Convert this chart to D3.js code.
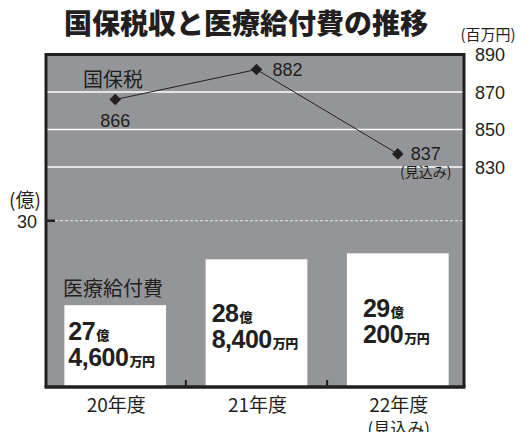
<!DOCTYPE html>
<html>
<head>
<meta charset="utf-8">
<style>
  body { margin: 0; background: #fff; overflow: hidden; }
  text { font-family: "Liberation Sans", "Noto Sans CJK JP", sans-serif; fill: #231f20; }
  .jp { font-family: "Noto Sans CJK JP", sans-serif; }
</style>
</head>
<body>
<div id="chart-area"></div>
<script src="https://cdn.jsdelivr.net/npm/d3@7"></script>
<script>
    // years and values
    var years = ["20年度", "21年度", "22年度"];
    var yearNotes = ["", "", "(見込み)"];
    var taxValues = [866, 882, 837];          // 国保税 (百万円)
    var benefitValues = [27.46, 28.84, 29.02]; // 医療給付費 (億)
    var benefitOku = ["27", "28", "29"];
    var benefitMan = ["4,600", "8,400", "200"];
    var rightTicks = [890, 870, 850, 830];
    var leftTicks = [30];

    const width = 531, height = 432;
    const pLeft = 46, pRight = 464, pTop = 54.5, pBottom = 387;

    const svg = d3.select("#chart-area").append("svg")
        .attr("width", width).attr("height", height);

    const x = d3.scaleBand().domain(years).range([pLeft, 467])
        .paddingInner(0.28).paddingOuter(0.13);
    const yLeft = d3.scaleLinear().domain([25, 35]).range([pBottom, pTop]);
    const yRight = d3.scaleLinear().domain([830, 890]).range([167, pTop]);

    // title
    svg.append("text").attr("class", "jp")
        .attr("x", 246).attr("y", 34).attr("text-anchor", "middle")
        .style("font-size", "28px").style("font-weight", 900)
        .text("国保税収と医療給付費の推移");

    // plot background
    svg.append("rect").attr("x", pLeft).attr("y", pTop)
        .attr("width", pRight - pLeft).attr("height", pBottom - pTop)
        .attr("fill", "#939598");

    // right gridlines
    svg.selectAll(".grid").data(rightTicks.slice(1)).enter().append("line")
        .attr("x1", pLeft).attr("x2", pRight)
        .attr("y1", d => yRight(d)).attr("y2", d => yRight(d))
        .attr("stroke", "#fff").attr("stroke-width", 1.5);

    // left dashed line at 30
    svg.selectAll(".lgrid").data(leftTicks).enter().append("line")
        .attr("x1", pLeft + 9).attr("x2", pRight)
        .attr("y1", d => yLeft(d)).attr("y2", d => yLeft(d))
        .attr("stroke", "#e8e8e8").attr("stroke-width", 1)
        .attr("stroke-dasharray", "3,2");
    svg.selectAll(".ltick").data(leftTicks).enter().append("line")
        .attr("x1", pLeft).attr("x2", pLeft + 9)
        .attr("y1", d => yLeft(d)).attr("y2", d => yLeft(d))
        .attr("stroke", "#231f20").attr("stroke-width", 2.5);

    // bars
    svg.selectAll(".bar").data(benefitValues).enter().append("rect")
        .attr("x", (d, i) => x(years[i]))
        .attr("y", d => yLeft(d))
        .attr("width", x.bandwidth())
        .attr("height", d => pBottom - yLeft(d))
        .attr("fill", "#fff");

    // bar labels
    var insets = [4, 6, 16];
    var drops = [35, 63, 64];
    var lab = svg.selectAll(".blab").data(benefitValues).enter().append("g")
        .attr("transform", (d, i) => `translate(${x(years[i]) + insets[i]},${yLeft(d) + drops[i]})`);
    lab.append("text").style("font-size", "25px").style("font-weight", "bold")
        .style("letter-spacing", "-0.5px")
        .text((d, i) => benefitOku[i])
        .append("tspan").attr("class", "jp").attr("dx", 1)
        .style("font-size", "13px").style("font-weight", 900).text("億");
    lab.append("text").attr("y", 26).style("font-size", "25px").style("font-weight", "bold")
        .style("letter-spacing", "-0.5px")
        .text((d, i) => benefitMan[i])
        .append("tspan").attr("class", "jp").attr("dx", 1)
        .style("font-size", "13px").style("font-weight", 900).text("万円");

    svg.append("text").attr("class", "jp").attr("x", 63).attr("y", 296)
        .style("font-size", "20px").text("医療給付費");

    // frame
    svg.append("path")
        .attr("d", `M${pLeft},${pBottom}V${pTop}H${pRight}V${pBottom}`)
        .attr("fill", "none").attr("stroke", "#231f20").attr("stroke-width", 3);
    svg.append("line").attr("x1", pLeft - 1.5).attr("x2", pRight + 1.5)
        .attr("y1", pBottom).attr("y2", pBottom)
        .attr("stroke", "#231f20").attr("stroke-width", 3.5);

    // x ticks between bands
    var step = x.step();
    svg.selectAll(".xtick").data(years.slice(1)).enter().append("line")
        .attr("x1", d => x(d) - step * x.paddingInner() / 2)
        .attr("x2", d => x(d) - step * x.paddingInner() / 2)
        .attr("y1", pBottom - 7).attr("y2", pBottom)
        .attr("stroke", "#231f20").attr("stroke-width", 2);

    // x labels
    svg.selectAll(".xlab").data(years).enter().append("text").attr("class", "jp")
        .attr("x", d => x(d) + x.bandwidth() / 2 + 1).attr("y", 412)
        .attr("text-anchor", "middle").style("font-size", "19px")
        .text(d => d);
    svg.selectAll(".xnote").data(yearNotes).enter().append("text").attr("class", "jp")
        .attr("x", (d, i) => x(years[i]) + x.bandwidth() / 2 + 1).attr("y", 435)
        .attr("text-anchor", "middle").style("font-size", "17px")
        .text(d => d);

    // right axis labels
    svg.selectAll(".rlab").data(rightTicks).enter().append("text")
        .attr("x", 475).attr("y", d => yRight(d) + 6.5)
        .style("font-size", "18px").text(d => d);
    svg.append("text").attr("class", "jp").attr("x", 488).attr("y", 40)
        .attr("text-anchor", "middle").style("font-size", "15px").text("(百万円)");

    // left axis labels
    svg.selectAll(".llab").data(leftTicks).enter().append("text")
        .attr("x", 37).attr("y", d => yLeft(d) + 7)
        .attr("text-anchor", "end").style("font-size", "18px").text(d => d);
    svg.append("text").attr("class", "jp").attr("x", 25).attr("y", 207)
        .attr("text-anchor", "middle").style("font-size", "19px").text("(億)");

    // tax line
    var cx = (d, i) => x(years[i]) + x.bandwidth() / 2;
    var line = d3.line().x(cx).y(d => yRight(d));
    svg.append("path").datum(taxValues).attr("d", line)
        .attr("fill", "none").attr("stroke", "#231f20").attr("stroke-width", 1);
    svg.selectAll(".pt").data(taxValues).enter().append("path")
        .attr("d", d3.symbol(d3.symbolDiamond2, 85))
        .attr("transform", (d, i) => `translate(${cx(d, i)},${yRight(d)})`)
        .attr("fill", "#231f20");

    svg.append("text").attr("class", "jp").attr("x", 83).attr("y", 87)
        .style("font-size", "20px").text("国保税");

    var off = [[0, 27, "middle"], [16, 6.5, "start"], [13, 6, "start"]];
    svg.selectAll(".tlab").data(taxValues).enter().append("text")
        .attr("x", (d, i) => cx(d, i) + off[i][0])
        .attr("y", (d, i) => yRight(d) + off[i][1])
        .attr("text-anchor", (d, i) => off[i][2])
        .style("font-size", "18px").text(d => d);
    svg.append("text").attr("class", "jp")
        .attr("x", cx(taxValues[2], 2) + 28).attr("y", yRight(taxValues[2]) + 23)
        .attr("text-anchor", "middle").style("font-size", "14px").text("(見込み)");
</script>
</body>
</html>
